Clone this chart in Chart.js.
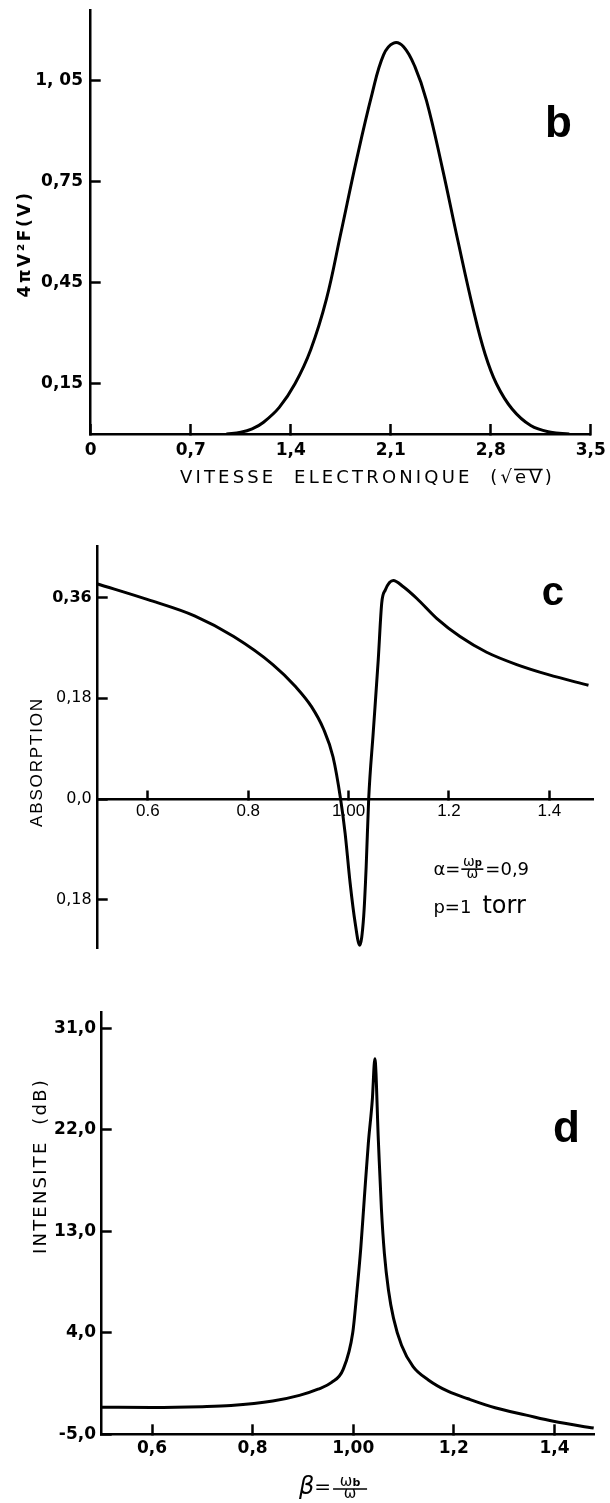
<!DOCTYPE html>
<html>
<head>
<meta charset="utf-8">
<script src="https://cdn.jsdelivr.net/npm/chart.js@4"></script>
<style>
  body { margin: 0; background: #fff; }
  #page { position: relative; width: 610px; height: 1503px; background: #fff; }
  canvas { position: absolute; left: 0; }
</style>
</head>
<body>
<div id="page">
  <canvas id="chartB" width="610" height="500" style="top:0px"></canvas>
  <canvas id="chartC" width="610" height="470" style="top:500px"></canvas>
  <canvas id="chartD" width="610" height="533" style="top:970px"></canvas>
</div>
<script>
// ---- panel b : distribution des vitesses
const vitesse = [0.95, 1.05, 1.13, 1.21, 1.32, 1.43, 1.54, 1.65, 1.75, 1.86, 1.97, 2.05, 2.12,
                 2.19, 2.27, 2.35, 2.46, 2.57, 2.68, 2.76, 2.84, 2.95, 3.08, 3.22, 3.35];
const distribution = [0, 0.005, 0.015, 0.035, 0.079, 0.149, 0.25, 0.4, 0.594, 0.812, 1.01, 1.125, 1.16,
                      1.149, 1.089, 0.99, 0.792, 0.574, 0.366, 0.238, 0.149, 0.074, 0.025, 0.005, 0];
const ticksBX = [0, 0.7, 1.4, 2.1, 2.8, 3.5];
const labelsBX = ['0', '0,7', '1,4', '2,1', '2,8', '3,5'];
const ticksBY = [0.15, 0.45, 0.75, 1.05];
const labelsBY = ['0,15', '0,45', '0,75', '1, 05'];

// ---- panel c : absorption
const betaC = [0.5, 0.6, 0.693, 0.771, 0.849, 0.895, 0.926, 0.95, 0.969, 0.984, 0.993, 1.003, 1.013,
               1.022, 1.03, 1.035, 1.04, 1.049, 1.059, 1.066, 1.073, 1.089, 1.109, 1.136, 1.176,
               1.222, 1.275, 1.335, 1.398, 1.478];
const absorption = [0.384, 0.356, 0.327, 0.29, 0.24, 0.2, 0.165, 0.125, 0.075, 0, -0.061, -0.15, -0.221,
                    -0.261, -0.21, -0.121, 0, 0.118, 0.248, 0.35, 0.373, 0.39, 0.379, 0.358, 0.322,
                    0.29, 0.262, 0.24, 0.222, 0.203];
const ticksCX = [0.6, 0.8, 1.0, 1.2, 1.4];
const labelsCX = ['0.6', '0.8', '1.00', '1.2', '1.4'];
const ticksCY = [-0.18, 0, 0.18, 0.36];
const labelsCY = ['0,18', '0,0', '0,18', '0,36'];

// ---- panel d : intensite
const betaD = [0.5, 0.6, 0.7, 0.757, 0.84, 0.893, 0.93, 0.957, 0.98, 0.999, 1.007, 1.015, 1.022, 1.03,
               1.038, 1.043, 1.05, 1.056, 1.062, 1.07, 1.08, 1.096, 1.119, 1.15, 1.189,
               1.228, 1.282, 1.344, 1.398, 1.478];
const intensite = [-2.6, -2.62, -2.55, -2.45, -2.05, -1.55, -1.0, -0.4, 0.76, 4.0, 7.5, 11.5, 15.9, 20.8,
                   24.7, 28.3, 21.0, 15.0, 11.0, 7.8, 5.3, 2.9, 1.0, -0.2, -1.2,
                   -1.85, -2.65, -3.3, -3.85, -4.45];
const ticksDX = [0.6, 0.8, 1.0, 1.2, 1.4];
const labelsDX = ['0,6', '0,8', '1,00', '1,2', '1,4'];
const ticksDY = [-5, 4, 13, 22, 31];
const labelsDY = ['-5,0', '4,0', '13,0', '22,0', '31,0'];

const DJ = "'DejaVu Sans', sans-serif";
const LIB = "'Liberation Sans', Arial, sans-serif";

function fitText(ctx, text, cx, cy, width, font, angle) {
  ctx.save();
  ctx.font = font;
  ctx.letterSpacing = '0px';
  const w0 = ctx.measureText(text).width;
  ctx.letterSpacing = ((width - w0) / text.length) + 'px';
  ctx.translate(cx, cy);
  ctx.rotate(angle || 0);
  ctx.textAlign = 'left';
  ctx.textBaseline = 'middle';
  ctx.fillStyle = '#000';
  ctx.fillText(text, -width / 2, 0);
  ctx.restore();
}

function fraction(ctx, x, yLine, w, sub, size) {
  ctx.save();
  ctx.fillStyle = '#000';
  ctx.strokeStyle = '#000';
  ctx.lineWidth = 1.6;
  ctx.beginPath();
  ctx.moveTo(x, yLine);
  ctx.lineTo(x + w, yLine);
  ctx.stroke();
  ctx.textBaseline = 'alphabetic';
  ctx.textAlign = 'left';
  ctx.font = size + 'px ' + DJ;
  const wo = ctx.measureText('ω').width;
  ctx.font = 'bold ' + Math.round(size * 0.7) + 'px ' + DJ;
  const ws = ctx.measureText(sub).width;
  const nx = x + (w - wo - ws) / 2;
  ctx.font = size + 'px ' + DJ;
  ctx.fillText('ω', nx, yLine - 3);
  ctx.font = 'bold ' + Math.round(size * 0.7) + 'px ' + DJ;
  ctx.fillText(sub, nx + wo, yLine - 3);
  ctx.font = size + 'px ' + DJ;
  ctx.textAlign = 'center';
  ctx.fillText('ω', x + w / 2, yLine + size * 0.62);
  ctx.restore();
}

function makeChart(id, cfg, drawText) {
  const pick = (ticks, labels) => v => labels[ticks.indexOf(v)];
  return new Chart(document.getElementById(id), {
    type: 'line',
    data: {
      datasets: [{
        data: cfg.xs.map((x, i) => ({ x: x, y: cfg.ys[i] })),
        borderColor: '#000',
        borderWidth: 3,
        fill: false,
        pointRadius: 0,
        tension: cfg.tension || 0,
        cubicInterpolationMode: cfg.tension ? 'default' : 'monotone'
      }]
    },
    options: {
      responsive: false,
      animation: false,
      layout: { padding: cfg.padding, autoPadding: false },
      plugins: { legend: { display: false }, tooltip: { enabled: false } },
      scales: {
        x: {
          type: 'linear',
          position: cfg.xPosition || 'bottom',
          min: cfg.xMin, max: cfg.xMax,
          border: { display: true, color: '#000', width: 2.5 },
          grid: { display: true, drawOnChartArea: false, drawTicks: true, tickLength: -10,
                  tickColor: '#000', tickWidth: 2.5 },
          ticks: { autoSkip: false, maxRotation: 0, padding: cfg.xPad, color: '#000',
                   font: cfg.xFont, callback: pick(cfg.xTicks, cfg.xLabels) },
          afterBuildTicks: s => { s.ticks = cfg.xTicks.map(v => ({ value: v })); },
          afterFit: s => {
            if (cfg.xHeight) s.height = cfg.xHeight;
            s.paddingLeft = 0; s.paddingRight = 0;
          }
        },
        y: {
          type: 'linear',
          min: cfg.yMin, max: cfg.yMax,
          border: { display: true, color: '#000', width: 2.5 },
          grid: { display: true, drawOnChartArea: false, drawTicks: true, tickLength: -10,
                  tickColor: '#000', tickWidth: 2.5 },
          ticks: { autoSkip: false, padding: cfg.yPad, color: '#000',
                   font: cfg.yFont, callback: pick(cfg.yTicks, cfg.yLabels) },
          afterBuildTicks: s => { s.ticks = cfg.yTicks.map(v => ({ value: v })); },
          afterFit: s => { s.width = cfg.yWidth; s.paddingTop = 0; s.paddingBottom = 0; }
        }
      }
    },
    plugins: [{ id: 'texte', afterDraw: chart => drawText(chart.ctx, chart.scales.x, chart.scales.y) }]
  });
}

// panel b
makeChart('chartB', {
  xs: vitesse, ys: distribution, tension: 0.4,
  xMin: 0, xMax: 3.5, yMin: 0, yMax: 1.258,
  xTicks: ticksBX, xLabels: labelsBX, yTicks: ticksBY, yLabels: labelsBY,
  padding: { top: 10, right: 19.3, bottom: 0, left: 0 },
  yWidth: 90.7, xHeight: 66, xPad: 16.5, yPad: 17.7,
  xFont: { family: DJ, size: 17, weight: 'bold' },
  yFont: { family: DJ, size: 17, weight: 'bold' }
}, (ctx, xs, ys) => {
  ctx.save();
  ctx.fillStyle = '#000';
  ctx.font = 'bold 44px ' + LIB;
  ctx.textBaseline = 'alphabetic';
  ctx.fillText('b', xs.getPixelForValue(3.18), ys.getPixelForValue(0.881));
  ctx.restore();
  fitText(ctx, '4πV²F(V)', 26, 244, 107, 'bold 17px ' + DJ, -Math.PI / 2);
  // titre de l'axe x avec la racine
  const text = 'VITESSE  ELECTRONIQUE  (√eV)';
  const left = 180, width = 375, cy = 478;
  fitText(ctx, text, left + width / 2, cy, width, '18px ' + DJ, 0);
  ctx.save();
  ctx.font = '18px ' + DJ;
  ctx.letterSpacing = '0px';
  const sp = (width - ctx.measureText(text).width) / text.length;
  ctx.letterSpacing = sp + 'px';
  const a = left + ctx.measureText(text.slice(0, text.indexOf('eV'))).width - 1;
  const b = left + ctx.measureText(text.slice(0, text.indexOf(')'))).width - sp + 1;
  ctx.strokeStyle = '#000';
  ctx.lineWidth = 1.6;
  ctx.beginPath();
  ctx.moveTo(a, cy - 8.5);
  ctx.lineTo(b, cy - 8.5);
  ctx.stroke();
  ctx.restore();
});

// panel c
makeChart('chartC', {
  xs: betaC, ys: absorption,
  xMin: 0.5, xMax: 1.487, yMin: -0.266, yMax: 0.4505,
  xPosition: { y: 0 },
  xTicks: ticksCX, xLabels: labelsCX, yTicks: ticksCY, yLabels: labelsCY,
  padding: { top: 46.7, right: 17, bottom: 22, left: 0 },
  yWidth: 97.7, xPad: 12, yPad: 16,
  xFont: { family: LIB, size: 17 },
  yFont: c => ({ family: DJ, size: 16, weight: c.tick && c.tick.value === 0.36 ? 'bold' : 'normal' })
}, (ctx, xs, ys) => {
  ctx.save();
  ctx.fillStyle = '#000';
  ctx.font = 'bold 40px ' + LIB;
  ctx.textBaseline = 'alphabetic';
  ctx.fillText('c', xs.getPixelForValue(1.385), ys.getPixelForValue(0.346));
  // annotation
  const ax = xs.getPixelForValue(1.169), ay = ys.getPixelForValue(-0.127);
  ctx.font = '18px ' + DJ;
  ctx.textBaseline = 'middle';
  ctx.fillText('α=', ax, ay);
  const fx = ax + ctx.measureText('α=').width + 1;
  fraction(ctx, fx, ay - 1, 22, 'p', 14);
  ctx.font = '18px ' + DJ;
  ctx.textBaseline = 'middle';
  ctx.fillText('=0,9', fx + 24, ay);
  ctx.textBaseline = 'alphabetic';
  ctx.fillText('p=1', ax, ay + 43);
  ctx.font = '24px ' + DJ;
  ctx.fillText('torr', ax + 49, ay + 43);
  ctx.restore();
  fitText(ctx, 'ABSORPTION', 37, 262, 130, '17px ' + LIB, -Math.PI / 2);
});

// panel d
makeChart('chartD', {
  xs: betaD, ys: intensite,
  xMin: 0.5, xMax: 1.4786, yMin: -5, yMax: 32.38,
  xTicks: ticksDX, xLabels: labelsDX, yTicks: ticksDY, yLabels: labelsDY,
  padding: { top: 42.7, right: 16, bottom: 0, left: 0 },
  yWidth: 101.7, xHeight: 68.7, xPad: 14.5, yPad: 15.7,
  xFont: { family: DJ, size: 17, weight: 'bold' },
  yFont: { family: DJ, size: 17, weight: 'bold' }
}, (ctx, xs, ys) => {
  ctx.save();
  ctx.fillStyle = '#000';
  ctx.font = 'bold 44px ' + LIB;
  ctx.textBaseline = 'alphabetic';
  ctx.fillText('d', xs.getPixelForValue(1.397), ys.getPixelForValue(20.9));
  // titre beta
  ctx.font = 'italic 24px ' + DJ;
  ctx.textBaseline = 'middle';
  ctx.fillText('β', 299, 518);
  const wb = ctx.measureText('β').width;
  ctx.font = '20px ' + DJ;
  ctx.fillText('=', 299 + wb, 518);
  const we = ctx.measureText('=').width;
  ctx.restore();
  fraction(ctx, 299 + wb + we + 2, 519, 34, 'b', 15);
  fitText(ctx, 'INTENSITE  (dB)', 41, 196, 176, '18px ' + DJ, -Math.PI / 2);
});
</script>
</body>
</html>
